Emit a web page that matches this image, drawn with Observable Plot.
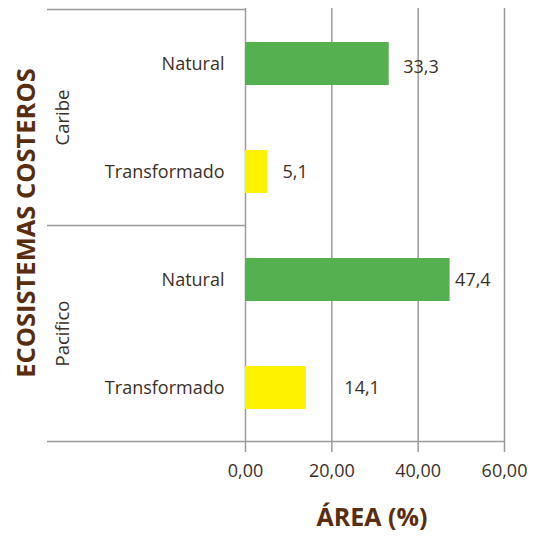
<!DOCTYPE html>
<html><head><meta charset="utf-8">
<script src="https://cdn.jsdelivr.net/npm/d3@7"></script>
<script src="https://cdn.jsdelivr.net/npm/@observablehq/plot@0.6"></script>
<style>
body{margin:0;background:#fff}
#chart svg{font-family:"Open Sans",sans-serif}
</style>
</head><body><div id="chart"></div>
<script>
const regions = ["Caribe", "Caribe", "Pacifico", "Pacifico"];
const categories = ["Natural", "Transformado", "Natural", "Transformado"];
const values = [33.3, 5.1, 47.4, 14.1];
const valueLabels = ["33,3", "5,1", "47,4", "14,1"];
const xTicks = [0, 20, 40, 60];
const groupNames = ["Caribe", "Pacifico"];
const yTitle = "ECOSISTEMAS COSTEROS";
const xTitle = "ÁREA (%)";

const data = values.map((v, i) => ({
  key: regions[i] + "|" + categories[i],
  region: regions[i],
  category: categories[i],
  value: v,
  label: valueLabels[i]
}));

const textColor = "#3d2f27";
const titleColor = "#5a2d0e";
const gridColor = "#9b9b9b";
const labelDx = [14, 15, 5, 38];

const plot = Plot.plot({
  width: 538,
  height: 541,
  marginLeft: 245,
  marginRight: 34,
  marginTop: 8,
  marginBottom: 98,
  style: {fontFamily: "'Open Sans', sans-serif", fontSize: "18px", color: textColor, background: "white"},
  x: {domain: [0, 60], ticks: xTicks, label: null},
  y: {domain: data.map(d => d.key), paddingInner: 0.6, paddingOuter: 0.3, label: null},
  color: {domain: ["Natural", "Transformado"], range: ["#55b04f", "#fff200"]},
  marks: [
    Plot.gridX(xTicks, {stroke: gridColor, strokeOpacity: 1, strokeWidth: 1.5}),
    Plot.barX(data, {y: "key", x: "value", fill: "category"}),
    ...data.map((d, i) => Plot.text([d], {
      y: "key", x: "value", text: "label", textAnchor: "start", dx: labelDx[i], dy: i === 0 ? 3 : 0,
      fill: textColor, fontSize: 18
    })),
    Plot.axisX({
      ticks: xTicks, tickSize: 9, tickPadding: 12, stroke: gridColor, strokeWidth: 1.5, strokeOpacity: 1,
      tickFormat: d => d.toFixed(2).replace(".", ","), fontSize: 18, label: null
    }),
    Plot.axisY({tickSize: 0, tickPadding: 21, tickFormat: k => k.split("|")[1], fontSize: 18, label: null}),
    Plot.text([yTitle], {frameAnchor: "left", dx: -219, dy: -3, rotate: -90, text: d => d,
      fontSize: 25.5, fontWeight: "bold", fill: titleColor, textAnchor: "middle"}),
    Plot.text([xTitle], {frameAnchor: "bottom", dx: -3, dy: 82, text: d => d,
      fontSize: 25, fontWeight: "bold", fill: titleColor, textAnchor: "middle"})
  ]
});

document.getElementById("chart").appendChild(plot);

// structural lines and group labels, placed from the plot's own scales
const svg = d3.select(plot);
const y = plot.scale("y");
const x = plot.scale("x");
const step = y.step, bw = y.bandwidth;
const x0 = x.apply(0), x1 = x.apply(60);
const leftEdge = 47;
const bandTop = k => y.apply(k) - (step - bw) / 2;
const g = svg.append("g");
const boundaries = [];
groupNames.forEach((name, gi) => {
  const keys = data.filter(d => d.region === name).map(d => d.key);
  const top = d3.min(keys, bandTop);
  const bottom = d3.max(keys, k => bandTop(k) + step);
  boundaries.push(top);
  if (gi === groupNames.length - 1) boundaries.push(bottom);
  g.append("text")
    .attr("transform", `translate(${leftEdge + 17},${(top + bottom) / 2}) rotate(-90)`)
    .attr("text-anchor", "middle")
    .attr("dominant-baseline", "middle")
    .attr("font-size", 18.5)
    .attr("fill", textColor)
    .text(name);
});
boundaries.forEach((b, i) => {
  g.append("line")
    .attr("x1", leftEdge).attr("x2", i === boundaries.length - 1 ? x1 + 1 : x0)
    .attr("y1", b).attr("y2", b)
    .attr("stroke", gridColor).attr("stroke-width", 1.5);
});
</script>
</body></html>
